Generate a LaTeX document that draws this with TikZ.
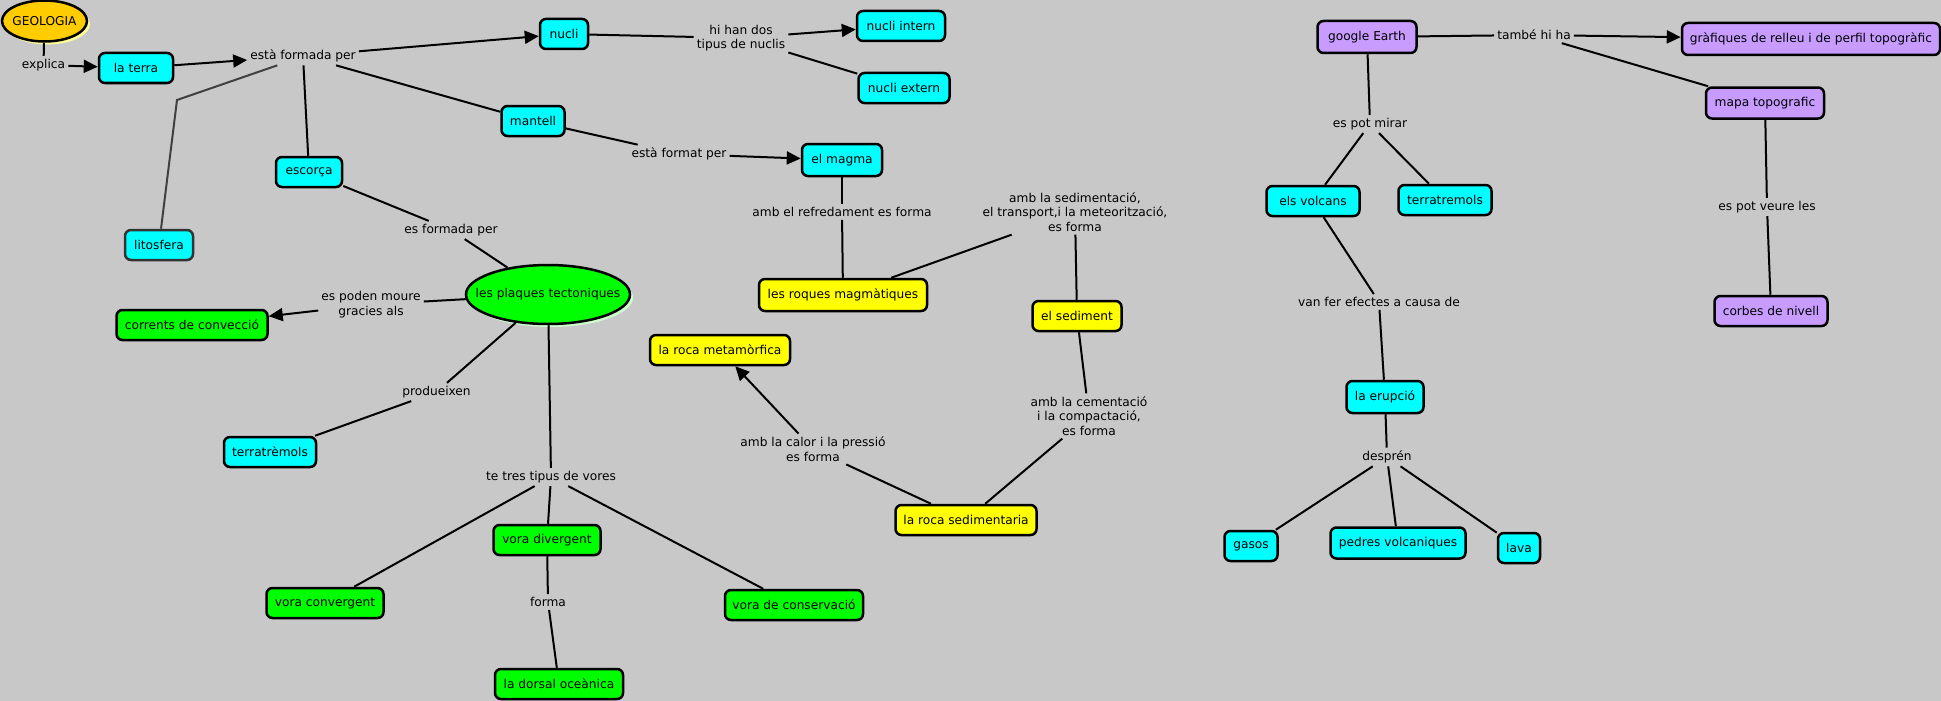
\documentclass[tikz,border=0pt]{standalone}
\usepackage{fontspec}
\setmainfont{DejaVu Sans}
\usetikzlibrary{arrows.meta,shapes.geometric,shadows}
\definecolor{bggray}{HTML}{C8C8C8}
\definecolor{ccyan}{HTML}{00FFFF}
\definecolor{cyellow}{HTML}{FFFF00}
\definecolor{cgreen}{HTML}{00FF00}
\definecolor{cpurple}{HTML}{C89BFF}
\definecolor{geoorange}{HTML}{FFCC00}
\definecolor{geoshadow}{HTML}{FFFF99}
\definecolor{plaqshadow}{HTML}{CCFFCC}

\begin{document}
\begin{tikzpicture}[x=1pt,y=-1pt,
  every node/.style={font=\fontsize{12.2}{14.5}\selectfont},
  concept/.style={draw,rectangle,rounded corners=6pt,line width=2.5pt,minimum height=30pt,inner xsep=4pt,align=center},
  cyanbox/.style={concept,fill=ccyan},
  yellowbox/.style={concept,fill=cyellow},
  greenbox/.style={concept,fill=cgreen},
  purplebox/.style={concept,fill=cpurple},
  oval/.style={ellipse,draw,line width=2.5pt,inner sep=0pt},
  phrase/.style={align=center,inner sep=3pt},
  link/.style={line width=2pt},
  linkarrow/.style={line width=2pt,-{Triangle[length=14pt,width=13pt]}}]
\fill[bggray] (0,0) rectangle (1941,701);
\useasboundingbox (0,0) rectangle (1941,701);

\node[oval,fill=geoorange,minimum width=85pt,minimum height=41pt,
  drop shadow={shadow xshift=3pt,shadow yshift=-3pt,fill=geoshadow,opacity=1}] (geologia) at (44.5,21) {\makebox[0pt]{GEOLOGIA}};
\node[phrase] (explica) at (43.5,65) {explica};
\node[cyanbox,minimum width=74pt] (laterra) at (136,68) {la terra};
\node[phrase] (estaformada) at (303,56) {està formada per};
\node[cyanbox,minimum width=48pt] (nucli) at (564,34) {nucli};
\node[phrase] (hihan) at (741,38) {hi han dos\\tipus de nuclis};
\node[cyanbox,minimum width=88pt] (nucliintern) at (901,26) {nucli intern};
\node[cyanbox,minimum width=91pt] (nucliextern) at (904,88) {nucli extern};
\node[cyanbox,minimum width=63pt] (mantell) at (533,121) {mantell};
\node[phrase] (estaformat) at (679,154) {està format per};
\node[cyanbox,minimum width=80pt,minimum height=32pt] (magma) at (842,160) {el magma};
\node[cyanbox,minimum width=66pt] (escorca) at (309,172) {escorça};
\node[cyanbox,minimum width=68pt,draw=black!80] (litosfera) at (159,245) {litosfera};
\coordinate (litbend) at (177,100);
\node[phrase] (esformada) at (451,230) {es formada per};
\node[oval,fill=cgreen,minimum width=164pt,minimum height=59pt,
  drop shadow={shadow xshift=3pt,shadow yshift=-3pt,fill=plaqshadow,opacity=1}] (plaques) at (548,294.5) {\makebox[0pt]{les plaques tectoniques}};
\node[phrase] (espoden) at (371,304.5) {es poden moure\\gracies als};
\node[greenbox,minimum width=151pt] (corrents) at (192,325) {corrents de convecció};
\node[phrase] (produeixen) at (436.5,392) {produeixen};
\node[cyanbox,minimum width=92pt] (terratremolsA) at (270,452) {terratrèmols};
\node[phrase] (tetres) at (551,477) {te tres tipus de vores};
\node[greenbox,minimum width=117pt] (convergent) at (325,603) {vora convergent};
\node[greenbox,minimum width=107pt] (divergent) at (547,540) {vora divergent};
\node[phrase] (forma) at (548,602) {forma};
\node[greenbox,minimum width=128pt] (dorsal) at (559,684) {la dorsal oceànica};
\node[greenbox,minimum width=138pt] (conservacio) at (794,605) {vora de conservació};
\node[phrase] (refredament) at (842,212) {amb el refredament es forma};
\node[yellowbox,minimum width=168pt,minimum height=32pt] (roquesmag) at (843,295) {les roques magmàtiques};
\node[phrase] (sedimentacio) at (1075,212) {amb la sedimentació,\\el transport,i la meteorització,\\es forma};
\node[yellowbox,minimum width=89pt] (sediment) at (1077,316) {el sediment};
\node[yellowbox,minimum width=140pt] (metamorfica) at (720,350) {la roca metamòrfica};
\node[phrase] (calor) at (813,449) {amb la calor i la pressió\\es forma};
\node[phrase] (cementacio) at (1089,416) {amb la cementació\\i la compactació,\\es forma};
\node[yellowbox,minimum width=141pt] (sedimentaria) at (966,520) {la roca sedimentaria};

\node[purplebox,minimum width=99pt,minimum height=32pt] (google) at (1367,37) {google Earth};
\node[phrase] (tambe) at (1534,35) {també hi ha};
\node[purplebox,minimum width=258pt,minimum height=32pt] (grafiques) at (1811,39) {gràfiques de relleu i de perfil topogràfic};
\node[purplebox,minimum width=118pt,minimum height=31pt] (mapa) at (1765,103) {mapa topografic};
\node[phrase] (espotveure) at (1767,207) {es pot veure les};
\node[purplebox,minimum width=113pt] (corbes) at (1771,311) {corbes de nivell};
\node[phrase] (espotmirar) at (1370,124) {es pot mirar};
\node[cyanbox,minimum width=93pt] (volcans) at (1313,201) {els volcans};
\node[cyanbox,minimum width=93pt] (terratremolsB) at (1445,200) {terratremols};
\node[phrase] (vanfer) at (1379,302) {van fer efectes a causa de};
\node[cyanbox,minimum width=77pt,minimum height=32pt] (erupcio) at (1385,397) {la erupció};
\node[phrase] (despren) at (1387,457) {desprén};
\node[cyanbox,minimum width=53pt] (gasos) at (1251,546) {gasos};
\node[cyanbox,minimum width=135pt,minimum height=31pt] (pedres) at (1398,543) {pedres volcaniques};
\node[cyanbox,minimum width=42pt] (lava) at (1519,548) {lava};

\draw[link] (geologia) -- (explica);
\draw[linkarrow] (explica) -- (laterra);
\draw[linkarrow] (laterra) -- (estaformada);
\draw[linkarrow] (estaformada) -- (nucli);
\draw[link] (estaformada) -- (mantell);
\draw[link] (estaformada) -- (escorca);
\draw[link,draw=black!75] (estaformada.200) -- (litbend) -- (litosfera);
\draw[link] (nucli) -- (hihan);
\draw[linkarrow] (hihan) -- (nucliintern);
\draw[link] (hihan) -- (nucliextern);
\draw[link] (mantell) -- (estaformat);
\draw[linkarrow] (estaformat) -- (magma);
\draw[link] (escorca) -- (esformada);
\draw[link] (esformada) -- (plaques);
\draw[link] (plaques) -- (espoden);
\draw[linkarrow] (espoden) -- (corrents);
\draw[link] (plaques) -- (produeixen);
\draw[link] (produeixen) -- (terratremolsA);
\draw[link] (plaques) -- (tetres);
\draw[link] (tetres) -- (convergent);
\draw[link] (tetres) -- (divergent);
\draw[link] (tetres) -- (conservacio);
\draw[link] (divergent) -- (forma);
\draw[link] (forma) -- (dorsal);
\draw[link] (magma) -- (refredament);
\draw[link] (refredament) -- (roquesmag);
\draw[link] (roquesmag) -- (sedimentacio);
\draw[link] (sedimentacio) -- (sediment);
\draw[link] (sediment) -- (cementacio);
\draw[link] (cementacio) -- (sedimentaria);
\draw[link] (sedimentaria) -- (calor);
\draw[linkarrow] (calor) -- (metamorfica);

\draw[link] (google) -- (tambe);
\draw[linkarrow] (tambe) -- (grafiques);
\draw[link] (tambe) -- (mapa);
\draw[link] (mapa) -- (espotveure);
\draw[link] (espotveure) -- (corbes);
\draw[link] (google) -- (espotmirar);
\draw[link] (espotmirar) -- (volcans);
\draw[link] (espotmirar) -- (terratremolsB);
\draw[link] (volcans) -- (vanfer);
\draw[link] (vanfer) -- (erupcio);
\draw[link] (erupcio) -- (despren);
\draw[link] (despren) -- (gasos);
\draw[link] (despren) -- (pedres);
\draw[link] (despren) -- (lava);
\end{tikzpicture}
\end{document}
